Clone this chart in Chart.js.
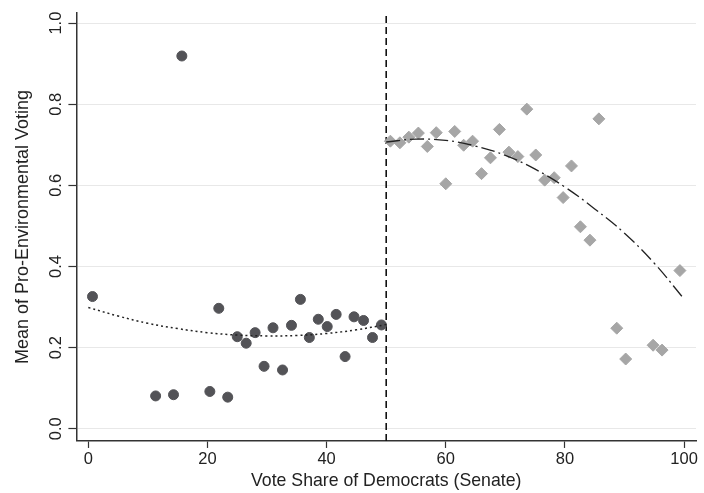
<!DOCTYPE html>
<html>
<head>
<meta charset="utf-8">
<script src="https://cdn.jsdelivr.net/npm/chart.js@4"></script>
<style>
html,body{margin:0;padding:0;background:#fff;}
#wrap{width:704px;height:493px;}
</style>
</head>
<body>
<div id="wrap"><canvas id="c" width="704" height="493"></canvas></div>
<script>
// Left of cutoff (Republican-won) bins
const leftX = [0.7, 11.3, 14.3, 15.7, 20.4, 21.9, 23.4, 25.0, 26.5, 28.0, 29.5, 31.0, 32.6, 34.1, 35.6, 37.1, 38.6, 40.1, 41.6, 43.1, 44.6, 46.2, 47.7, 49.2];
const leftY = [0.326, 0.081, 0.084, 0.919, 0.092, 0.297, 0.078, 0.227, 0.211, 0.237, 0.154, 0.249, 0.145, 0.255, 0.319, 0.225, 0.270, 0.252, 0.282, 0.178, 0.276, 0.267, 0.225, 0.256];
// Right of cutoff (Democrat-won) bins
const rightX = [50.7, 52.3, 53.8, 55.4, 56.9, 58.4, 60.0, 61.5, 63.0, 64.5, 66.0, 67.5, 69.0, 70.6, 72.1, 73.6, 75.1, 76.6, 78.2, 79.7, 81.1, 82.6, 84.2, 85.7, 88.7, 90.2, 94.8, 96.3, 99.3];
const rightY = [0.709, 0.705, 0.719, 0.729, 0.696, 0.730, 0.604, 0.733, 0.699, 0.709, 0.629, 0.668, 0.738, 0.682, 0.671, 0.788, 0.675, 0.613, 0.619, 0.570, 0.648, 0.498, 0.465, 0.764, 0.248, 0.172, 0.206, 0.194, 0.390];
// Fitted curves
const fitLeftX = [0, 5, 10, 15, 20, 25, 30, 35, 40, 45, 50];
const fitLeftY = [0.299, 0.278, 0.260, 0.247, 0.237, 0.231, 0.229, 0.230, 0.235, 0.244, 0.257];
const fitRightX = [50, 55, 60, 65, 70, 75, 80, 85, 90, 95, 100];
const fitRightY = [0.707, 0.714, 0.711, 0.697, 0.674, 0.640, 0.596, 0.542, 0.482, 0.408, 0.320];
// Cutoff
const cutoffX = [50, 50];
const cutoffY = [-0.03, 1.025];
// Axis ticks
const xTicks = [0, 20, 40, 60, 80, 100];
const yTicks = [0.0, 0.2, 0.4, 0.6, 0.8, 1.0];

const zip = (xs, ys) => xs.map((x, i) => ({x: x, y: ys[i]}));
const FONT = "'Liberation Sans', Arial, sans-serif";

new Chart(document.getElementById('c'), {
  type: 'scatter',
  data: {
    datasets: [
      {
        type: 'line', data: zip(cutoffX, cutoffY), borderColor: '#111', borderWidth: 1.6,
        borderDash: [7, 4], pointRadius: 0, fill: false, order: 5
      },
      {
        type: 'line', data: zip(fitLeftX, fitLeftY), borderColor: '#222', borderWidth: 1.5,
        borderDash: [2, 3], pointRadius: 0, fill: false, tension: 0.4, order: 1
      },
      {
        type: 'line', data: zip(fitRightX, fitRightY), borderColor: '#222', borderWidth: 1.3,
        borderDash: [14, 4, 2, 4], pointRadius: 0, fill: false, tension: 0.4, order: 1
      },
      {
        data: zip(leftX, leftY), backgroundColor: '#535357', borderColor: '#535357',
        pointRadius: 5, pointStyle: 'circle', order: 3
      },
      {
        data: zip(rightX, rightY), backgroundColor: '#a6a6a6', borderColor: '#a6a6a6',
        pointRadius: 6, pointStyle: 'rectRot', order: 3
      }
    ]
  },
  options: {
    responsive: false,
    animation: false,
    layout: {padding: {top: 13, right: 8, left: 8, bottom: 0}},
    plugins: {legend: {display: false}, tooltip: {enabled: false}},
    scales: {
      x: {
        type: 'linear', min: -2, max: 102,
        afterBuildTicks: (s) => { s.ticks = xTicks.map(v => ({value: v})); },
        ticks: {font: {family: FONT, size: 16.5}, color: '#222', padding: 1.5, includeBounds: false},
        grid: {drawOnChartArea: false, drawTicks: true, tickLength: 7, tickColor: '#333', tickWidth: 1.2},
        border: {display: true, color: '#333', width: 1.5},
        title: {display: true, text: 'Vote Share of Democrats (Senate)', font: {family: FONT, size: 17.7}, color: '#222', padding: {top: 0, bottom: 1}}
      },
      y: {
        type: 'linear', min: -0.03, max: 1.025,
        afterBuildTicks: (s) => { s.ticks = yTicks.map(v => ({value: v})); },
        ticks: {font: {family: FONT, size: 16.5}, color: '#222', padding: 0, minRotation: 90, maxRotation: 90,
          crossAlign: 'center', callback: (v) => v.toFixed(1)},
        grid: {color: '#e8e8e8', lineWidth: 1, drawTicks: true, tickLength: 8, tickColor: '#333', tickWidth: 1.2},
        border: {display: true, color: '#333', width: 1.5},
        title: {display: true, text: 'Mean of Pro-Environmental Voting', font: {family: FONT, size: 18}, color: '#222', padding: {top: 4, bottom: 15}}
      }
    }
  }
});
</script>
</body>
</html>
